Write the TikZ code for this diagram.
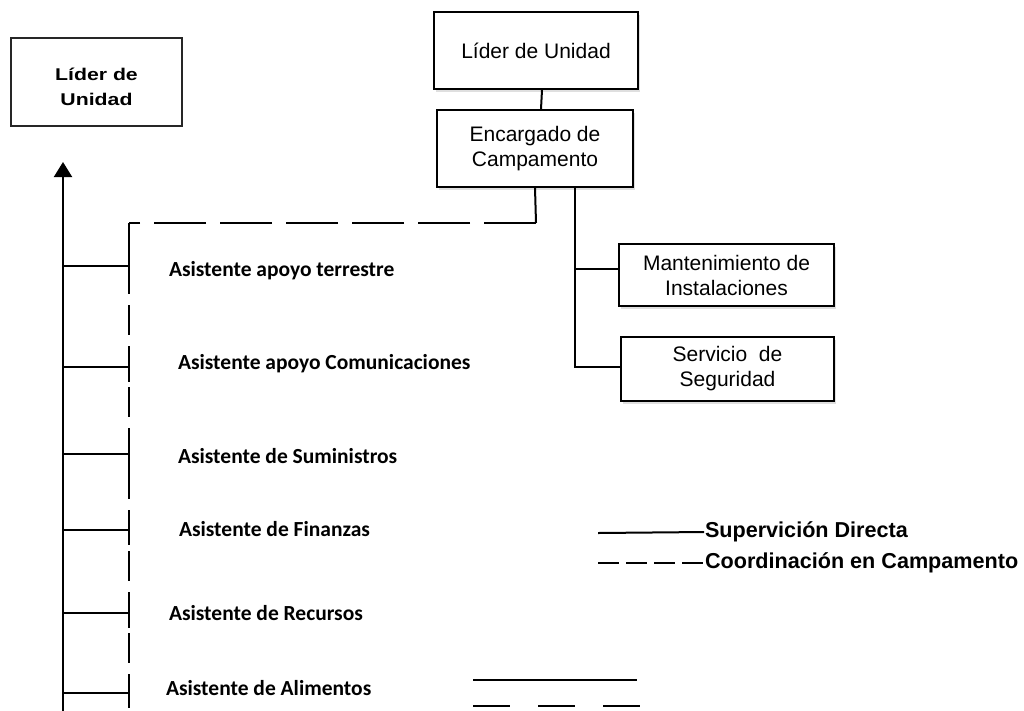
\documentclass[tikz,border=0pt]{standalone}
\usepackage{fontspec}
\setmainfont{Liberation Sans}
\newfontfamily\carlitofont{Carlito}
\usetikzlibrary{arrows.meta,shadows}
\begin{document}
\begin{tikzpicture}[x=1pt,y=-1pt,
  line width=2pt,
  orgbox/.style={draw=black,line width=2pt,fill=white,align=center,inner sep=0pt,
    font=\fontsize{21}{25}\selectfont,
    drop shadow={opacity=0.25,shadow xshift=2pt,shadow yshift=-3pt}},
  leadbox/.style={draw=black!85,line width=2.2pt,fill=white,inner sep=0pt},
  leadtext/.style={align=center,inner sep=0pt,font=\bfseries\fontsize{17}{25}\selectfont},
  assist/.style={anchor=west,inner sep=0pt,font=\carlitofont\bfseries\fontsize{21.5}{24}\selectfont},
  legtext/.style={anchor=west,inner sep=0pt,font=\bfseries\fontsize{21.6}{24}\selectfont},
  hdash/.style={dash pattern=on 52pt off 14pt},
  vdash/.style={dash pattern=on 30pt off 11pt},
  legdash/.style={dash pattern=on 21pt off 7pt},
  lowdash/.style={dash pattern=on 37pt off 28pt}]
\useasboundingbox (0,0) rectangle (1024,710);

% left leader box
\node[leadbox,minimum width=171pt,minimum height=88pt] (lead) at (96.5,82) {};
\node[leadtext] (leadtxt) at (96.5,87)
  {\scalebox{1.25}[1]{Líder de}\\\scalebox{1.25}[1]{Unidad}};

% main chain
\node[orgbox,minimum width=204pt,minimum height=77pt] (top) at (536,50.5) {Líder de Unidad};
\node[orgbox,minimum width=196pt,minimum height=77pt] (enc) at (535,148.5) {Encargado de\\Campamento};
\node[orgbox,minimum width=215pt,minimum height=62pt] (mant) at (726.5,275) {Mantenimiento de\\Instalaciones};
\node[orgbox,minimum width=213pt,minimum height=64pt] (serv) at (727.5,369) {Servicio\ \ de\\Seguridad};

\draw ([xshift=6pt]top.south) -- ([xshift=6pt]enc.north);
\draw ([xshift=40pt]enc.south) |- ([yshift=6pt]mant.west);
\draw ([xshift=40pt]enc.south) |- ([yshift=2pt]serv.west);

% coordination line
\coordinate (dc) at (536,223);
\coordinate (dl) at (129,223);
\coordinate (dbot) at (129,712);
\draw (enc.south) -- (dc);
\draw[hdash] (dc) -- (dl);
\draw[vdash] (dl) -- (dbot);

% upward arrow to the leader
\coordinate (abot) at (63,712);
\coordinate (atop) at (63,162);
\draw[-{Triangle[length=15pt,width=18pt]}] (abot) -- (atop);

% assistants
\node[assist] (a1) at (168,271) {Asistente apoyo terrestre};
\node[assist] (a2) at (177,364) {Asistente apoyo Comunicaciones};
\node[assist] (a3) at (177,456) {Asistente de Suministros};
\node[assist] (a4) at (178,529) {Asistente de Finanzas};
\node[assist] (a5) at (168,613) {Asistente de Recursos};
\node[assist] (a6) at (165,688) {Asistente de Alimentos};

\foreach \yy [count=\i] in {266,367,454,530,613,693} {
  \coordinate (tl\i) at (63,\yy);
  \coordinate (tr\i) at (129,\yy);
  \draw (tl\i) -- (tr\i);
  \draw ([yshift=15pt]tr\i) -- ([yshift=-15pt]tr\i);
}

% legend
\coordinate (ls1) at (598,533);
\node[legtext] (lsup) at (704,532) {Supervición Directa};
\draw (ls1) -- (lsup.west);
\coordinate (ld1) at (598,563);
\node[legtext] (lcoo) at (704,563) {Coordinación en Campamento};
\draw[legdash] (ld1) -- (lcoo.west);

% lower line samples
\coordinate (s1) at (473,680);
\coordinate (s2) at (637,680);
\draw (s1) -- (s2);
\coordinate (s3) at (473,706);
\coordinate (s4) at (640,706);
\draw[lowdash] (s3) -- (s4);
\end{tikzpicture}
\end{document}
